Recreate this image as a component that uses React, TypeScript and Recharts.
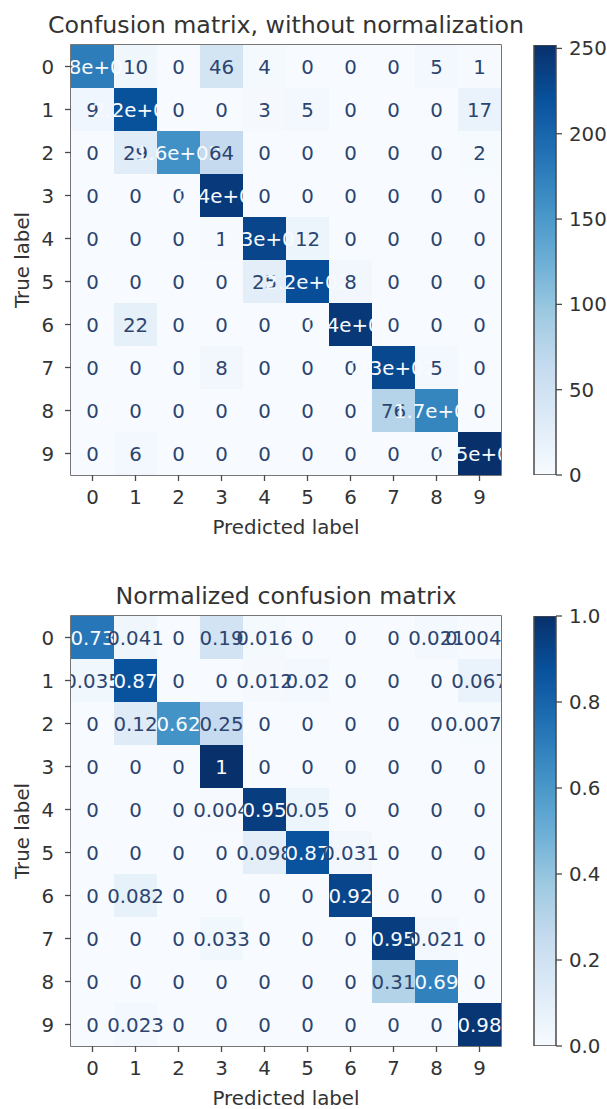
import React from "react";
import { ScatterChart, Scatter, XAxis, YAxis, ReferenceArea, BarChart, Bar } from "recharts";

// class labels 0..9 on both axes
const classLabels = [0, 1, 2, 3, 4, 5, 6, 7, 8, 9];

// counts (diagonal values recovered from the clipped "x.xe+02" texts)
const countMatrix = [
  [178, 10, 0, 46, 4, 0, 0, 0, 5, 1],
  [9, 220, 0, 0, 3, 5, 0, 0, 0, 17],
  [0, 29, 158, 64, 0, 0, 0, 0, 0, 2],
  [0, 0, 0, 242, 0, 0, 0, 0, 0, 0],
  [0, 0, 0, 1, 232, 12, 0, 0, 0, 0],
  [0, 0, 0, 0, 25, 224, 8, 0, 0, 0],
  [0, 22, 0, 0, 0, 0, 244, 0, 0, 0],
  [0, 0, 0, 8, 0, 0, 0, 229, 5, 0],
  [0, 0, 0, 0, 0, 0, 0, 76, 170, 0],
  [0, 6, 0, 0, 0, 0, 0, 0, 0, 252],
];

// normalized values as printed in the second plot
const normMatrix = [
  [0.73, 0.041, 0, 0.19, 0.016, 0, 0, 0, 0.021, 0.0041],
  [0.035, 0.87, 0, 0, 0.012, 0.02, 0, 0, 0, 0.067],
  [0, 0.12, 0.62, 0.25, 0, 0, 0, 0, 0, 0.0079],
  [0, 0, 0, 1, 0, 0, 0, 0, 0, 0],
  [0, 0, 0, 0.004, 0.95, 0.05, 0, 0, 0, 0],
  [0, 0, 0, 0, 0.098, 0.87, 0.031, 0, 0, 0],
  [0, 0.082, 0, 0, 0, 0, 0.92, 0, 0, 0],
  [0, 0, 0, 0.033, 0, 0, 0, 0.95, 0.021, 0],
  [0, 0, 0, 0, 0, 0, 0, 0.31, 0.69, 0],
  [0, 0.023, 0, 0, 0, 0, 0, 0, 0, 0.98],
];

const countTicks = [0, 50, 100, 150, 200, 250];
const normTicks = [0, 0.2, 0.4, 0.6, 0.8, 1.0];

// matplotlib "Blues"
const BLUES = ["#f7fbff", "#deebf7", "#c6dbef", "#9ecae1", "#6baed6", "#4292c6", "#2171b5", "#08519c", "#08306b"];

const hexToRgb = (h: string) => [1, 3, 5].map((i) => parseInt(h.slice(i, i + 2), 16));

const blues = (t: number) => {
  const c = Math.max(0, Math.min(1, t)) * 8;
  const i = Math.min(7, Math.floor(c));
  const f = c - i;
  const a = hexToRgb(BLUES[i]);
  const b = hexToRgb(BLUES[i + 1]);
  const rgb = a.map((v, k) => Math.round(v + (b[k] - v) * f));
  return `rgb(${rgb[0]},${rgb[1]},${rgb[2]})`;
};

// python-like '.2g'
const fmt2g = (v: number) => {
  if (v === 0) return "0";
  const s = v.toPrecision(2);
  let [mant, exp] = s.split("e");
  if (mant.includes(".")) mant = mant.replace(/0+$/, "").replace(/\.$/, "");
  if (exp) return `${mant}e${exp[0]}${exp.slice(1).padStart(2, "0")}`;
  return mant;
};

const FONT = "DejaVu Sans";
const FS = 19.8;
const AXIS = "#4a4a4a";
const TICK_TXT = "#333";
const DARK_TXT = "#2c4570";
const LIGHT_TXT = "#f7fbff";

const PLOT = 430;
const CELL = PLOT / 10;

const MatrixPanel = ({
  title,
  matrix,
  ticks,
  tickFmt,
  top,
  height,
}: {
  title: string;
  matrix: number[][];
  ticks: number[];
  tickFmt: (v: number) => string;
  top: number;
  height: number;
}) => {
  const all = matrix.flat();
  const vmax = Math.max(...all);
  const vmin = Math.min(...all);
  const thresh = (vmax + vmin) / 2;
  const points = matrix.flatMap((row, i) => row.map((v, j) => ({ x: j, y: i, v })));

  const cellShape = (p: any) => (
    <rect
      x={p.cx - CELL / 2}
      y={p.cy - CELL / 2}
      width={CELL}
      height={CELL}
      fill={blues((p.payload.v - vmin) / (vmax - vmin))}
    />
  );

  const textShape = (p: any) => (
    <text
      x={p.cx}
      y={p.cy}
      dy="0.36em"
      textAnchor="middle"
      fontFamily={FONT}
      fontSize={FS}
      fill={p.payload.v < thresh ? DARK_TXT : LIGHT_TXT}
    >
      {fmt2g(p.payload.v)}
    </text>
  );

  const tickStyle = { fill: TICK_TXT, fontSize: FS, fontFamily: FONT };

  return (
    <div style={{ position: "absolute", left: 0, top, width: 607, height }}>
      <div style={{ position: "absolute", left: 0, top: 0 }}>
        <ScatterChart width={520} height={height} margin={{ top: 45, right: 19, bottom: height - 45 - PLOT - 30, left: 41 }}>
          <XAxis
            type="number"
            dataKey="x"
            domain={[-0.5, 9.5]}
            ticks={classLabels}
            interval={0}
            height={30}
            tickSize={6}
            tickMargin={9}
            axisLine={false}
            tickLine={{ stroke: AXIS, strokeWidth: 1.3 }}
            tick={tickStyle}
            allowDataOverflow
          />
          <YAxis
            type="number"
            dataKey="y"
            domain={[-0.5, 9.5]}
            reversed
            ticks={classLabels}
            interval={0}
            width={30}
            tickSize={6}
            tickMargin={11}
            axisLine={false}
            tickLine={{ stroke: AXIS, strokeWidth: 1.3 }}
            tick={tickStyle}
            allowDataOverflow
          />
          <Scatter data={points} shape={cellShape} isAnimationActive={false} />
          <Scatter data={points} shape={textShape} isAnimationActive={false} />
          <ReferenceArea x1={-0.5} x2={9.5} y1={-0.5} y2={9.5} fill="none" fillOpacity={0} stroke={AXIS} strokeWidth={1.5} ifOverflow="visible" />
        </ScatterChart>
      </div>

      <div style={{ position: "absolute", left: 520, top: 0 }}>
        <BarChart
          width={87}
          height={height}
          data={[{ name: "cb", v: vmax }]}
          margin={{ top: 45, right: 0, bottom: height - 45 - PLOT, left: 14 }}
          barCategoryGap={0}
        >
          <XAxis dataKey="name" hide />
          <YAxis
            orientation="right"
            type="number"
            domain={[0, vmax]}
            ticks={ticks}
            interval={0}
            width={51}
            tickSize={6}
            tickMargin={7}
            axisLine={false}
            tickLine={{ stroke: AXIS, strokeWidth: 1.3 }}
            tick={tickStyle}
            tickFormatter={tickFmt}
            allowDataOverflow
          />
          <Bar dataKey="v" fill="url(#bluesGrad)" stroke={AXIS} strokeWidth={1.5} isAnimationActive={false} />
        </BarChart>
      </div>

      <svg width={607} height={height} style={{ position: "absolute", left: 0, top: 0, pointerEvents: "none" }}>
        <text x={71 + PLOT / 2} y={33} textAnchor="middle" fontFamily={FONT} fontSize={23.7} fill="#333">
          {title}
        </text>
        <text x={71 + PLOT / 2} y={534} textAnchor="middle" fontFamily={FONT} fontSize={FS} fill="#333">
          Predicted label
        </text>
        <text
          x={29}
          y={45 + PLOT / 2}
          textAnchor="middle"
          fontFamily={FONT}
          fontSize={FS}
          fill="#333"
          transform={`rotate(-90 29 ${45 + PLOT / 2})`}
        >
          True label
        </text>
      </svg>
    </div>
  );
};

export default function App() {
  return (
    <div style={{ position: "absolute", left: 0, top: 0, width: 607, height: 1109, overflow: "hidden", background: "#fff" }}>
      <svg width={0} height={0} style={{ position: "absolute" }}>
        <defs>
          <linearGradient id="bluesGrad" x1="0" y1="0" x2="0" y2="1">
            {[...BLUES].reverse().map((c, k) => (
              <stop key={k} offset={k / 8} stopColor={c} />
            ))}
          </linearGradient>
        </defs>
      </svg>
      <MatrixPanel
        title="Confusion matrix, without normalization"
        matrix={countMatrix}
        ticks={countTicks}
        tickFmt={(v) => String(v)}
        top={0}
        height={540}
      />
      <MatrixPanel
        title="Normalized confusion matrix"
        matrix={normMatrix}
        ticks={normTicks}
        tickFmt={(v) => v.toFixed(1)}
        top={571}
        height={538}
      />
    </div>
  );
}
